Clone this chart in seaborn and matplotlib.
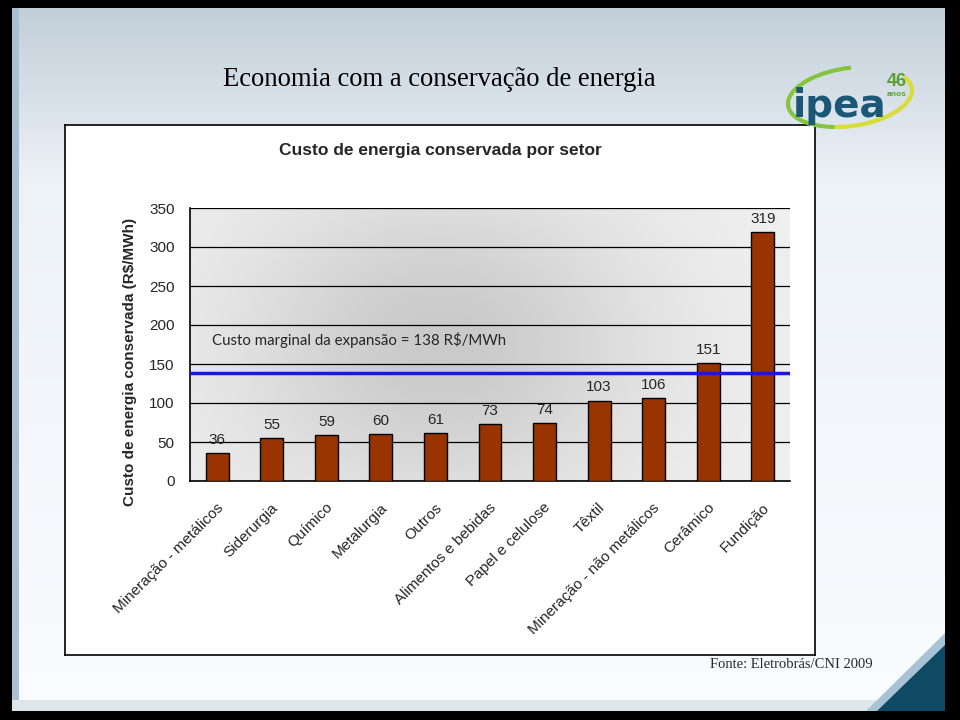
import numpy as np
import matplotlib
matplotlib.use("Agg")
import matplotlib.pyplot as plt
import matplotlib.transforms as mtransforms
from matplotlib import font_manager
import pandas as pd
import seaborn as sns
from matplotlib.patches import Polygon, Rectangle, Arc

setores = ['Mineração - metálicos', 'Siderurgia', 'Químico', 'Metalurgia', 'Outros',
           'Alimentos e bebidas', 'Papel e celulose', 'Têxtil',
           'Mineração - não metálicos', 'Cerâmico', 'Fundição']
custos = [36, 55, 59, 60, 61, 73, 74, 103, 106, 151, 319]
custo_marginal = 138
yticks = [0, 50, 100, 150, 200, 250, 300, 350]

df = pd.DataFrame({'setor': setores, 'custo': custos})

sns.set_style('white')
plt.rcParams['font.family'] = ['Liberation Sans', 'DejaVu Sans']

fig = plt.figure(figsize=(9.6, 7.2), dpi=100)
fig.patch.set_facecolor('black')

# slide background
bg = fig.add_axes([12/960, 9/720, (945-12)/960, (712-9)/720])
bg.set_axis_off()
yy = np.linspace(0, 1, 300)[:, None]
top = np.array([0.76, 0.81, 0.85])
mid = np.array([0.93, 0.95, 0.97])
bot = np.array([0.98, 0.99, 1.0])
t = np.clip(yy / 0.25, 0, 1)[..., None]
grad = np.where(yy[..., None] < 0.25, top + (mid - top) * t,
                mid + (bot - mid) * np.clip((yy - 0.25) / 0.75, 0, 1)[..., None])
grad = np.repeat(grad, 2, axis=1)
bg.imshow(grad, aspect='auto', extent=(0, 1, 1, 0))
bg.set_xlim(0, 1)
bg.set_ylim(1, 0)
bg.add_patch(Rectangle((0, 0), 0.007, 1, color='#a9c1d3', lw=0))
bg.add_patch(Rectangle((0, 0.985), 0.93, 0.015, color='#dfe6ea', lw=0))


def fx(px):
    return (px - 12) / 933


def fy(py):
    return (py - 9) / 703


bg.add_patch(Polygon([(fx(866), fy(712)), (fx(945), fy(634)), (fx(945), fy(712))], color='#a9c3d6', lw=0))
bg.add_patch(Polygon([(fx(877), fy(712)), (fx(945), fy(646)), (fx(945), fy(712))], color='#0e4a63', lw=0))

# chart box
box = fig.add_axes([65/960, 1-655/720, (815-65)/960, (655-125)/720])
box.set_xticks([])
box.set_yticks([])
box.set_facecolor('white')
for s in box.spines.values():
    s.set_color('black')
    s.set_linewidth(1.2)

# titles
fig.text(439/960, 1-80/720, 'Economia com a conservação de energia', family='Liberation Serif',
         fontsize=19.2, ha='center', va='center', color='black')
fig.text(440/960, 1-151/720, 'Custo de energia conservada por setor', fontsize=12.5,
         fontweight='bold', ha='center', va='center')
fig.text(130/960, 1-362/720, 'Custo de energia conservada (R$/MWh)', fontsize=11,
         fontweight='bold', rotation=90, ha='center', va='center')
fig.text(791/960, 1-665/720, 'Fonte: Eletrobrás/CNI 2009', family='Liberation Serif',
         fontsize=10.5, ha='center', va='center')

# logo
lg = fig.add_axes([0, 0, 1, 1], zorder=1)
lg.set_axis_off()
lg.set_xlim(0, 960)
lg.set_ylim(0, 720)
lg.add_patch(Arc((850, 720-97), 125, 58, angle=8, theta1=80, theta2=235, color='#86c440', lw=3))
lg.add_patch(Arc((850, 720-97), 125, 58, angle=8, theta1=235, theta2=372, color='#d8dc36', lw=3))
names = {f.name for f in font_manager.fontManager.ttflist}
if 'Liberation Sans Narrow' in names:
    logo_font, logo_size = 'Liberation Sans Narrow', 39
else:
    logo_font, logo_size = 'DejaVu Sans', 28
fig.text(793/960, 1-117/720, 'ipea', family=logo_font, fontsize=logo_size, fontweight='bold',
         color='#1b5878', ha='left', va='baseline', zorder=4)
fig.text(897/960, 1-81/720, '46', fontsize=13, fontweight='bold', color='#5aa02c',
         ha='center', va='center', zorder=4)
fig.text(897/960, 1-94/720, 'anos', fontsize=6, fontweight='bold', color='#5aa02c',
         ha='center', va='center', zorder=4)

# main plot
ax = fig.add_axes([190/960, 1-481/720, 600/960, 273/720])
xs = np.linspace(0, 1, 200)
ys = np.linspace(0, 1, 120)
X, Y = np.meshgrid(xs, ys)
shade = 0.94 - 0.15 * np.exp(-(((X - 0.42) / 0.35) ** 2 + ((Y - 0.5) / 0.6) ** 2))
ax.imshow(shade, cmap='gray', vmin=0, vmax=1, aspect='auto',
          extent=(-0.5, 10.5, 0, 350), zorder=0)

sns.barplot(data=df, x='setor', y='custo', color='#993300', edgecolor='black',
            linewidth=1, width=0.42, saturation=1, ax=ax, zorder=3)

for i, v in enumerate(custos):
    ax.annotate(str(v), (i, v), xytext=(0, 4.5), textcoords='offset points',
                ha='center', va='bottom', fontsize=11, zorder=5)

ax.axhline(custo_marginal, color='#1a1ad0', lw=2.5, zorder=4)
ax.text(-0.1, 181, 'Custo marginal da expansão = 138 R$/MWh', family=['Lato', 'DejaVu Sans'],
        fontsize=10.8, ha='left', va='center', zorder=5)

ax.set_xlim(-0.5, 10.5)
ax.set_ylim(0, 350)
ax.set_yticks(yticks)
ax.yaxis.grid(True, color='black', lw=0.9)
for gl in ax.get_ygridlines():
    gl.set_zorder(1)
ax.set_xlabel('')
ax.set_ylabel('')
ax.set_xticks(range(len(setores)))
ax.set_xticklabels(setores, rotation=45, ha='right', va='top', rotation_mode='anchor', fontsize=11)
ax.set_xticks(np.arange(-0.5, 11, 1), minor=True)
ax.tick_params(axis='x', which='major', length=0, pad=14)
ax.tick_params(axis='x', which='minor', length=6, width=1, direction='out', color='black')
ax.tick_params(axis='y', length=5, width=1, direction='out', color='black', labelsize=11, pad=6)
off = mtransforms.ScaledTranslation(-1/100, 0, fig.dpi_scale_trans)
for lab in ax.get_xticklabels():
    lab.set_transform(lab.get_transform() + off)
sns.despine(ax=ax, top=True, right=True)
ax.spines['left'].set_color('black')
ax.spines['bottom'].set_color('black')
ax.spines['left'].set_linewidth(1.2)
ax.spines['bottom'].set_linewidth(1.2)

fig.savefig('out.png', dpi=100, facecolor=fig.get_facecolor())
